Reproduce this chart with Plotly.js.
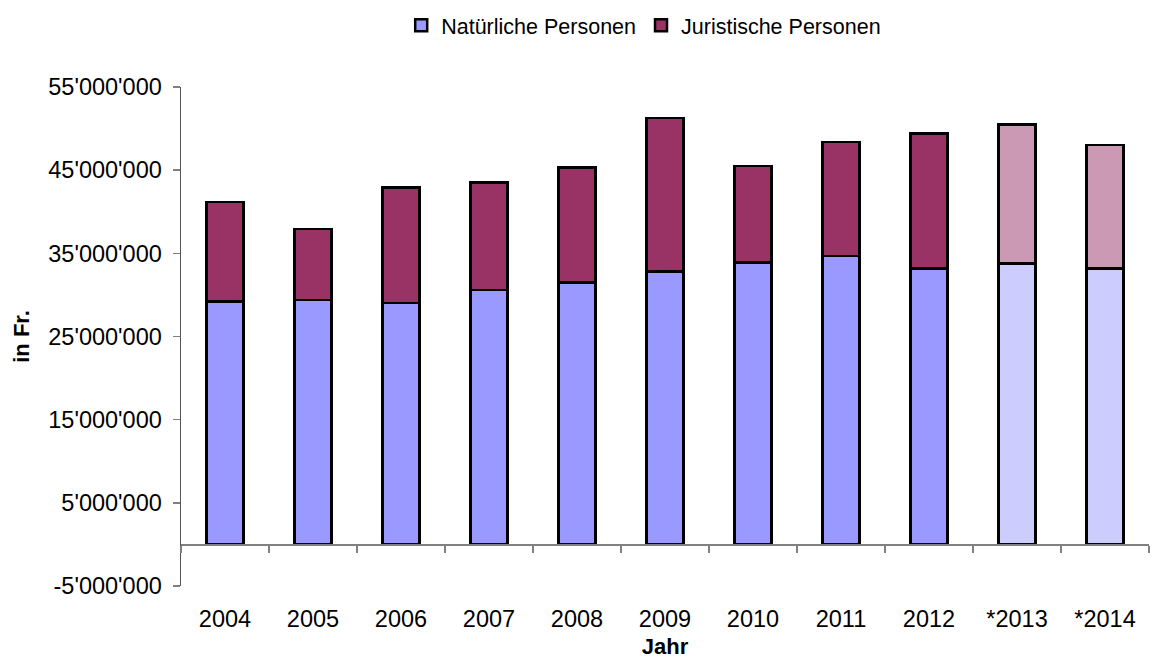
<!DOCTYPE html>
<html>
<head>
<meta charset="utf-8">
<script src="https://cdn.plot.ly/plotly-3.0.1.min.js"></script>
<style>html,body{margin:0;padding:0;background:#fff;}#chart{width:1152px;height:664px;}</style>
</head>
<body>
<div id="chart"></div>
<script>
const years = ['2004','2005','2006','2007','2008','2009','2010','2011','2012','*2013','*2014'];
const natuerliche = [29200000, 29400000, 29000000, 30600000, 31500000, 32800000, 33900000, 34700000, 33200000, 33800000, 33200000];
const juristische = [12000000, 8550000, 13900000, 12900000, 13800000, 18500000, 11600000, 13700000, 16200000, 16700000, 14800000];
const yTickVals = [-5000000, 5000000, 15000000, 25000000, 35000000, 45000000, 55000000];
const yTickText = ["-5'000'000", "5'000'000", "15'000'000", "25'000'000", "35'000'000", "45'000'000", "55'000'000"];

const natColors = years.map(y => y.startsWith('*') ? '#CCCCFF' : '#9999FF');
const jurColors = years.map(y => y.startsWith('*') ? '#CC99B4' : '#993366');
const FONT = 'Liberation Sans, Arial, sans-serif';

const boundaries = [];
for (let i = 0; i <= years.length; i++) boundaries.push(i - 0.5);

const traces = [
  {type:'bar', name:'Natürliche Personen', x:years, y:natuerliche, width:0.42,
   marker:{color:natColors, line:{color:'#000', width:2.5}}, hoverinfo:'x+y'},
  {type:'bar', name:'Juristische Personen', x:years, y:juristische, width:0.42,
   marker:{color:jurColors, line:{color:'#000', width:2.5}}, hoverinfo:'x+y'},
  {type:'scatter', mode:'markers', x:boundaries, y:boundaries.map(() => 0), xaxis:'x2', yaxis:'y',
   marker:{opacity:0, size:1}, showlegend:false, hoverinfo:'skip'}
];

const layout = {
  width:1152, height:664,
  margin:{l:181, r:3, t:87, b:78},
  paper_bgcolor:'#fff', plot_bgcolor:'#fff',
  font:{family:FONT, size:22, color:'#000'},
  barmode:'stack',
  showlegend:true,
  legend:{orientation:'h', x:0.478, xanchor:'center', y:1.165, yanchor:'top',
          font:{family:FONT, size:21.5, color:'#000'}, traceorder:'normal', itemwidth:30},
  xaxis:{type:'category', categoryarray:years, range:[-0.5, years.length-0.5],
         showline:false, showgrid:false, zeroline:false,
         ticks:'outside', ticklen:12, tickcolor:'rgba(0,0,0,0)',
         tickfont:{family:FONT, size:23.5, color:'#000'},
         title:{text:'<b>Jahr</b>', font:{family:FONT, size:22, color:'#000'}, standoff:7}},
  xaxis2:{overlaying:'x', anchor:'free', position:1/12, range:[-0.5, years.length-0.5],
          showline:true, linecolor:'#808080', linewidth:1.5,
          ticks:'outside', ticklen:7, tickcolor:'#808080', tickwidth:1.5,
          tickvals:boundaries, showticklabels:false, showgrid:false, zeroline:false, fixedrange:true},
  yaxis:{range:[-5000000, 55000000], tickvals:yTickVals, ticktext:yTickText,
         showline:true, linecolor:'#555', linewidth:1.5,
         ticks:'outside', ticklen:7, tickcolor:'#808080', tickwidth:1.5, ticklabelstandoff:6,
         showgrid:false, zeroline:false,
         tickfont:{family:FONT, size:23.5, color:'#000'},
         title:{text:'<b>in Fr.</b>', font:{family:FONT, size:22, color:'#000'}, standoff:12}}
};

Plotly.newPlot('chart', traces, layout, {displayModeBar:false, staticPlot:true});
</script>
</body>
</html>
